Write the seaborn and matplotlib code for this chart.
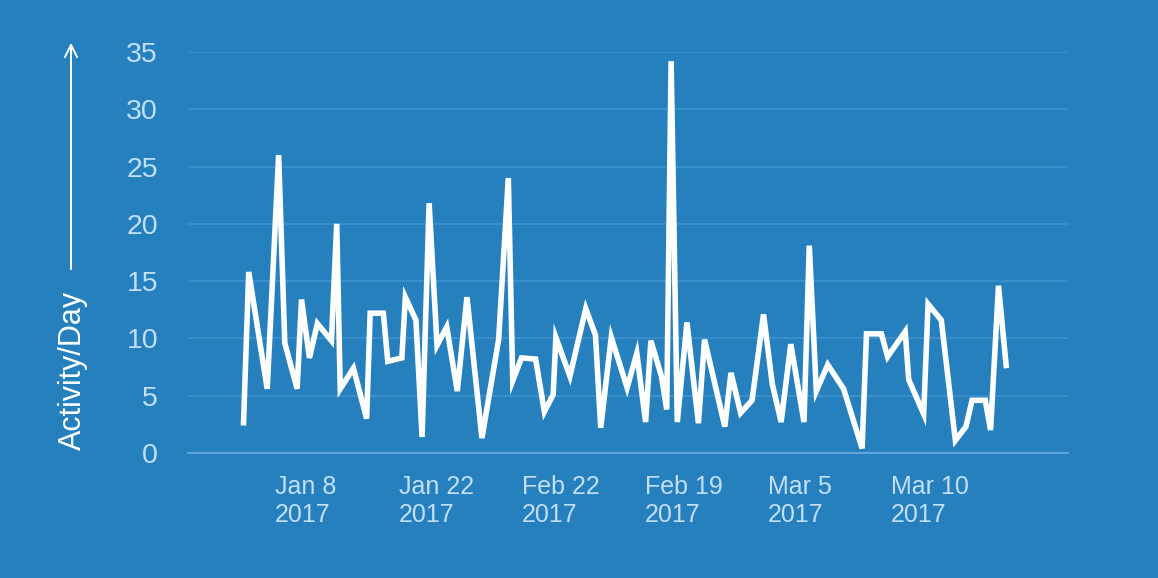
import matplotlib
matplotlib.use("Agg")
import matplotlib.pyplot as plt
import seaborn as sns
import pandas as pd

# ---- data (x in day units along the axis, y = activity per day) ----
day_pos = [6.3, 6.9, 9.0, 10.3, 11.0, 12.4, 12.9, 13.8, 14.7, 16.3,
           16.9, 17.3, 18.8, 20.3, 20.7, 22.2, 22.7, 24.3, 24.7, 25.9,
           26.6, 27.4, 28.3, 29.4, 30.6, 31.7, 33.4, 35.3, 36.4, 36.9,
           37.9, 39.5, 40.5, 41.5, 41.8, 43.4, 45.2, 46.3, 46.9, 48.1,
           49.9, 51.0, 52.0, 52.6, 53.8, 54.4, 54.9, 55.6, 56.7, 58.0,
           58.7, 61.0, 61.7, 62.8, 64.1, 65.4, 66.4, 67.4, 68.5, 70.0,
           70.6, 71.4, 72.7, 74.5, 76.6, 77.1, 78.8, 79.5, 81.5, 81.9,
           83.6, 84.1, 85.6, 87.2, 88.4, 89.1, 90.6, 91.2, 92.1, 93.0]
activity = [2.4, 15.8, 5.6, 26.0, 9.6, 5.6, 13.4, 8.3, 11.3, 9.8,
            20.0, 5.6, 7.4, 3.0, 12.2, 12.2, 8.0, 8.3, 13.6, 11.6,
            1.4, 21.8, 9.4, 11.0, 5.4, 13.6, 1.3, 9.9, 24.0, 6.3,
            8.3, 8.2, 3.6, 5.1, 10.1, 6.7, 12.6, 10.3, 2.2, 10.1,
            5.7, 8.7, 2.7, 9.8, 6.7, 3.8, 34.2, 2.7, 11.4, 2.6,
            9.9, 2.3, 7.0, 3.5, 4.6, 12.1, 6.0, 2.7, 9.5, 2.7,
            18.1, 5.4, 7.7, 5.6, 0.4, 10.4, 10.4, 8.4, 10.6, 6.4,
            3.4, 13.0, 11.6, 1.1, 2.3, 4.6, 4.6, 2.0, 14.6, 7.4]
tick_pos = [13.4, 28.2, 42.4, 56.3, 69.5, 84.3]
tick_labels = ["Jan 8\n2017", "Jan 22\n2017", "Feb 22\n2017",
               "Feb 19\n2017", "Mar 5\n2017", "Mar 10\n2017"]
y_ticks = [0, 5, 10, 15, 20, 25, 30, 35]

BG = "#2680BD"
GRID = "#3F93CD"
BASE = "#5CA6DC"
TICK = "#C2DFF5"

sns.set_theme(style="white")
plt.rcParams["font.family"] = ["Liberation Sans", "DejaVu Sans"]

fig = plt.figure(figsize=(11.58, 5.78), dpi=100, facecolor=BG)
ax = fig.add_axes([188 / 1158, (578 - 453) / 578, 880 / 1158, 401 / 578])
ax.set_facecolor(BG)

df = pd.DataFrame({"day": day_pos, "activity": activity})
sns.lineplot(data=df, x="day", y="activity", ax=ax, color="white",
             linewidth=4.0, sort=False, solid_joinstyle="miter",
             solid_capstyle="butt")

ax.set_xlim(0, 100)
ax.set_ylim(0, 35)
ax.set_yticks(y_ticks)
ax.set_yticklabels([str(v) for v in y_ticks])
ax.set_xticks(tick_pos)
ax.set_xticklabels(tick_labels, multialignment="left")
for y in y_ticks[1:]:
    ax.axhline(y, color=GRID, linewidth=1.2, zorder=0)
ax.axhline(0, color=BASE, linewidth=1.5, zorder=0, clip_on=False)

for s in ax.spines.values():
    s.set_visible(False)
ax.tick_params(axis="y", length=0, pad=21.5, labelsize=20.5, labelcolor=TICK)
ax.tick_params(axis="x", length=0, pad=16, labelsize=18, labelcolor=TICK)
ax.set_xlabel("")
ax.set_ylabel("")
ax.grid(False)

fig.text(73 / 1158, (578 - 450) / 578, "Activity/Day", rotation=90,
         color="white", fontsize=22, ha="center", va="bottom")
ax.annotate("", xy=(71 / 1158, (578 - 40) / 578),
            xytext=(71 / 1158, (578 - 272) / 578),
            xycoords="figure fraction", textcoords="figure fraction",
            arrowprops=dict(arrowstyle="->", color="white", lw=1.4,
                            mutation_scale=22))

fig.savefig("out.png", dpi=100, facecolor=BG)
